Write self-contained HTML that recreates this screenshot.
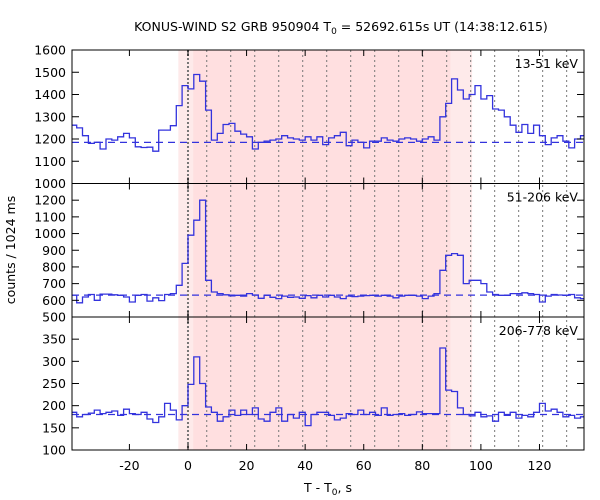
<!DOCTYPE html>
<html><head><meta charset="utf-8"><style>
body{margin:0;background:#fff}
svg{display:block;font-family:"DejaVu Sans","Liberation Sans",sans-serif}
</style></head><body>
<svg id="chart" width="600" height="500" viewBox="0 0 600 500" xmlns="http://www.w3.org/2000/svg"></svg>
<script>
const binStart = -40, binWidth = 2;
const counts1 = [1262,1250,1215,1180,1185,1155,1200,1195,1210,1225,1205,1165,1162,1163,1145,1240,1240,1260,1350,1440,1425,1490,1460,1330,1195,1225,1265,1270,1235,1222,1210,1155,1185,1190,1195,1200,1215,1205,1200,1195,1210,1195,1210,1175,
1205,1215,1230,1170,1195,1185,1160,1190,1190,1205,1195,1190,1200,1205,1200,1190,1200,1210,1195,1300,1360,1470,1420,1380,1400,1440,1380,1395,1335,1330,1300,1262,1230,1265,1225,1262,1215,1175,1205,1215,1190,1160,1200,1215];
const counts2 = [631,585,620,635,600,637,637,633,630,620,590,630,635,595,615,598,635,640,690,821,990,1080,1200,720,650,640,633,627,630,625,640,632,612,630,618,610,625,618,620,612,628,615,630,620,
630,620,610,625,622,625,628,630,625,630,625,615,625,630,630,625,610,625,640,780,870,880,870,700,720,720,700,650,635,630,630,640,640,645,640,635,590,625,635,632,630,635,615,610];
const counts3 = [185,175,180,183,190,182,185,188,178,192,182,180,185,170,162,175,205,190,168,200,248,310,250,197,185,165,175,190,178,190,180,195,170,165,185,195,165,180,172,185,155,180,185,185,
178,168,172,182,180,190,180,185,178,195,178,180,182,178,180,186,182,182,182,330,235,232,195,180,177,185,175,177,165,185,178,185,172,178,175,185,205,188,192,185,175,178,172,175];
const background = [1185, 631, 180];
const bands = ["13-51 keV","51-206 keV","206-778 keV"];
const yMin = [1000,500,100], yMax = [1600,1300,400];
const yTicks = [[1000,1100,1200,1300,1400,1500,1600],[500,600,700,800,900,1000,1100,1200],[100,150,200,250,300,350]];
const xTicks = [-20,0,20,40,60,80,100,120];
const outerInterval = [-3.3, 97];
const innerInterval = [1.8, 89.6];
const gridStart = 6.4, gridStep = 8.192;

const svg = document.getElementById('chart');
const NS = 'http://www.w3.org/2000/svg';
function mk(tag, attrs, parent){const e=document.createElementNS(NS,tag);for(const k in attrs)e.setAttribute(k,attrs[k]);(parent||svg).appendChild(e);return e;}
const L=72, R=584, xMinV=-39.6, xMaxV=135.2;
const panelTop=[50,183.5,317], panelBot=[183.5,317,450];
const X = t => L + (t - xMinV) * (R - L) / (xMaxV - xMinV);
const Y = (p, v) => panelBot[p] - (v - yMin[p]) * (panelBot[p] - panelTop[p]) / (yMax[p] - yMin[p]);
const allCounts=[counts1,counts2,counts3];

let r=mk('rect',{x:X(outerInterval[0]),y:50,width:X(outerInterval[1])-X(outerInterval[0]),height:400,fill:'#feeaea'});

r=mk('rect',{x:X(innerInterval[0]),y:50,width:X(innerInterval[1])-X(innerInterval[0]),height:400,fill:'#ffdfe0'});

for(let t=gridStart;t<xMaxV;t+=gridStep){
  const l=mk('line',{x1:X(t),x2:X(t),y1:50,y2:450,stroke:'#777','stroke-width':1,'stroke-dasharray':'2,3'});
  
}
const z=mk('line',{x1:X(0),x2:X(0),y1:50,y2:450,stroke:'#777','stroke-width':2,'stroke-dasharray':'2,2'});


for(let p=0;p<3;p++){
  const g=mk('g',{});
  
  const b=mk('line',{x1:L,x2:R,y1:Y(p,background[p]),y2:Y(p,background[p]),stroke:'#3333dd','stroke-width':1.2,'stroke-dasharray':'7,5'},g);
  
  const c=allCounts[p];let d='';
  for(let i=0;i<c.length;i++){
    const x0=Math.max(L,X(binStart+i*binWidth)), x1=Math.min(R,X(binStart+(i+1)*binWidth)), y=Y(p,c[i]);
    d+=(i===0?'M':'L')+x0.toFixed(1)+','+y.toFixed(1)+'L'+x1.toFixed(1)+','+y.toFixed(1);
    if(x1>=R)break;
  }
  const h=mk('path',{d:d,fill:'none',stroke:'#3333dd','stroke-width':1.3},g);
  
  const f=mk('rect',{x:L,y:panelTop[p],width:R-L,height:panelBot[p]-panelTop[p],fill:'none',stroke:'#000','stroke-width':1},g);
  
  yTicks[p].forEach((v,i)=>{
    const y=Y(p,v);
    mk('line',{x1:L,x2:L+7,y1:y,y2:y,stroke:'#000'},g);
    mk('line',{x1:R,x2:R-7,y1:y,y2:y,stroke:'#000'},g);
    const t=mk('text',{x:L-6,y:y+4.5,'text-anchor':'end','font-size':12.5},g);
    
    t.textContent=v;
  });
  xTicks.forEach(v=>{
    mk('line',{x1:X(v),x2:X(v),y1:panelTop[p],y2:panelTop[p]+6,stroke:'#000'},g);
    mk('line',{x1:X(v),x2:X(v),y1:panelBot[p],y2:panelBot[p]-6,stroke:'#000'},g);
  });
  const bl=mk('text',{x:578,y:panelTop[p]+18,'text-anchor':'end','font-size':12.5},g);
  
  bl.textContent=bands[p];
}
xTicks.forEach(v=>{
  const t=mk('text',{x:X(v),y:470,'text-anchor':'middle','font-size':12.5});
  
  t.textContent=v;
});
</script>
<svg style="position:absolute;left:0;top:0" width="600" height="500">
<text x="341" y="31" text-anchor="middle" font-size="12.5" font-family="DejaVu Sans, sans-serif">KONUS-WIND S2 GRB 950904 T<tspan font-size="9" dy="3">0</tspan><tspan dy="-3"> = 52692.615s UT (14:38:12.615)</tspan></text>
<text x="328" y="492" text-anchor="middle" font-size="12.5" font-family="DejaVu Sans, sans-serif">T - T<tspan font-size="9" dy="3">0</tspan><tspan dy="-3">, s</tspan></text>
<text x="15" y="250" text-anchor="middle" font-size="12.5" font-family="DejaVu Sans, sans-serif" transform="rotate(-90 15 250)">counts / 1024 ms</text>
</svg>
</body></html>
